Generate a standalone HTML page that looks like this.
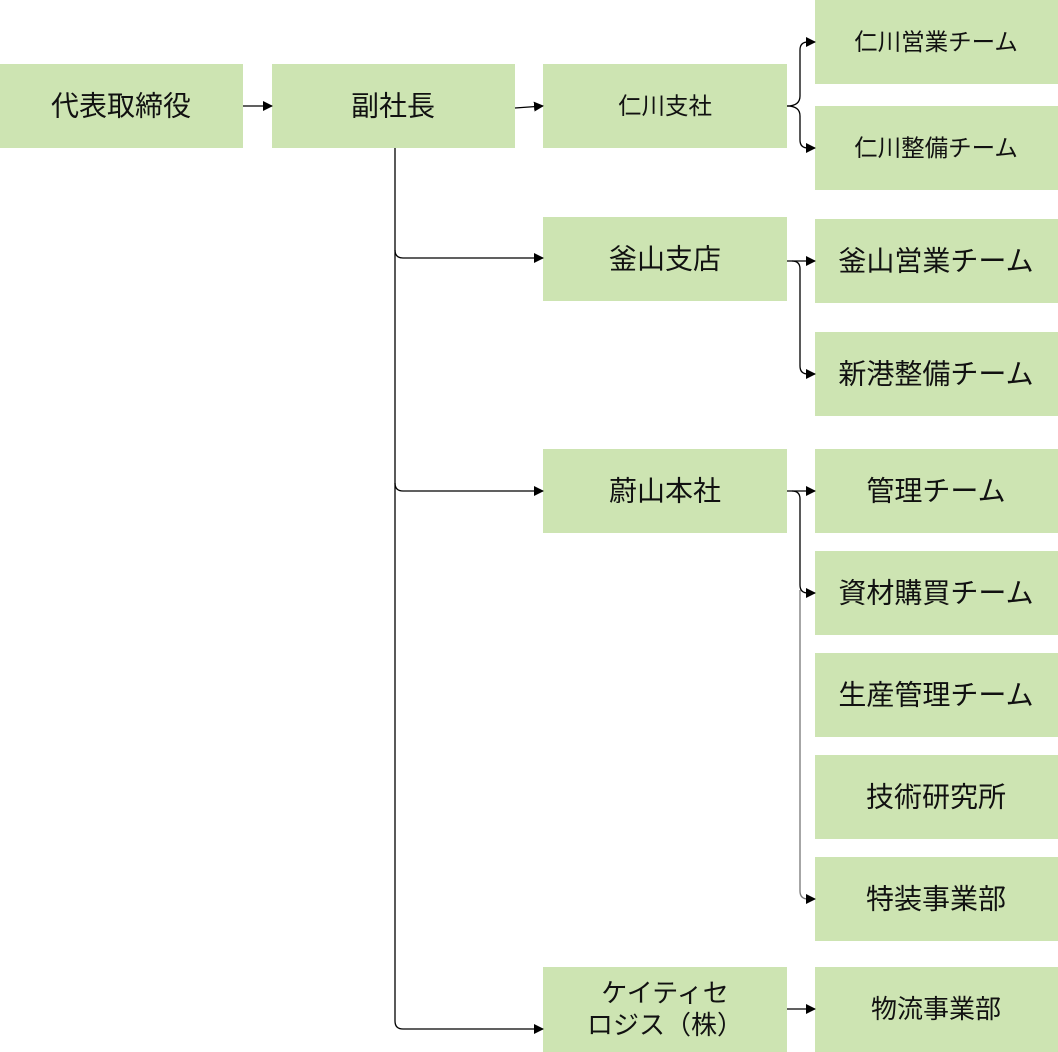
<!DOCTYPE html>
<html><head><meta charset="utf-8"><style>
html,body{margin:0;padding:0;background:#fff;width:1058px;height:1052px;overflow:hidden}
text{font-family:"Liberation Sans","Noto Sans CJK JP",sans-serif;fill:#111;text-anchor:middle;dominant-baseline:central}
</style></head><body>
<svg width="1058" height="1052" viewBox="0 0 1058 1052" xmlns="http://www.w3.org/2000/svg">
<defs><marker id="a" markerWidth="10" markerHeight="10" refX="9" refY="5" orient="auto" markerUnits="userSpaceOnUse"><path d="M0,0 L10,5 L0,10 Z" fill="#000"/></marker></defs>
<g fill="#cde4b2">
<rect x="0" y="64" width="243" height="84"/>
<rect x="272" y="64" width="243" height="84"/>
<rect x="543" y="64" width="244" height="84"/>
<rect x="543" y="217" width="244" height="84"/>
<rect x="543" y="449" width="244" height="84"/>
<rect x="543" y="967" width="244" height="85"/>
<rect x="815" y="0" width="243" height="84"/>
<rect x="815" y="106" width="243" height="84"/>
<rect x="815" y="219" width="243" height="84"/>
<rect x="815" y="332" width="243" height="84"/>
<rect x="815" y="449" width="243" height="84"/>
<rect x="815" y="551" width="243" height="84"/>
<rect x="815" y="653" width="243" height="84"/>
<rect x="815" y="755" width="243" height="84"/>
<rect x="815" y="857" width="243" height="84"/>
<rect x="815" y="967" width="243" height="85"/>
</g>
<g fill="none" stroke="#000" stroke-width="1.3">
<line x1="243" y1="106" x2="272" y2="106" marker-end="url(#a)"/>
<line x1="515" y1="108" x2="543" y2="106" marker-end="url(#a)"/>
<path d="M395,148 V1021 Q395,1029 403,1029 H543" marker-end="url(#a)"/>
<path d="M395,250 Q395,258 403,258 H543" marker-end="url(#a)"/>
<path d="M395,483 Q395,491 403,491 H543" marker-end="url(#a)"/>
<path d="M787,106 Q800,106 800,96 V50 Q800,42 808,42 H815" marker-end="url(#a)"/>
<path d="M787,106 Q800,106 800,116 V140 Q800,148 808,148 H815" marker-end="url(#a)"/>
<path d="M787,261 H815" marker-end="url(#a)"/>
<path d="M792,261 Q800,261 800,269 V366 Q800,374 808,374 H815" marker-end="url(#a)"/>
<path d="M787,491 H815" marker-end="url(#a)"/>
<path d="M792,491 Q800,491 800,499 V585 Q800,593 808,593 H815" marker-end="url(#a)"/>
<path d="M800,590 V891 Q800,899 808,899 H815" marker-end="url(#a)" stroke="#777"/>
<line x1="787" y1="1009" x2="815" y2="1009" marker-end="url(#a)"/>
</g>
<g font-size="28">
<text x="121" y="106">代表取締役</text>
<text x="393" y="106">副社長</text>
<text x="665" y="259">釜山支店</text>
<text x="665" y="491">蔚山本社</text>
<text x="936" y="261">釜山営業チーム</text>
<text x="936" y="374">新港整備チーム</text>
<text x="936" y="491">管理チーム</text>
<text x="936" y="593">資材購買チーム</text>
<text x="936" y="695">生産管理チーム</text>
<text x="936" y="797">技術研究所</text>
<text x="936" y="899">特装事業部</text>
</g>
<g font-size="23.5">
<text x="665" y="106">仁川支社</text>
<text x="936" y="42">仁川営業チーム</text>
<text x="936" y="148">仁川整備チーム</text>
</g>
<g font-size="26">
<text x="665" y="993">ケイティセ</text>
<text x="665" y="1025">ロジス（株）</text>
<text x="936" y="1009">物流事業部</text>
</g>
</svg>
</body></html>
